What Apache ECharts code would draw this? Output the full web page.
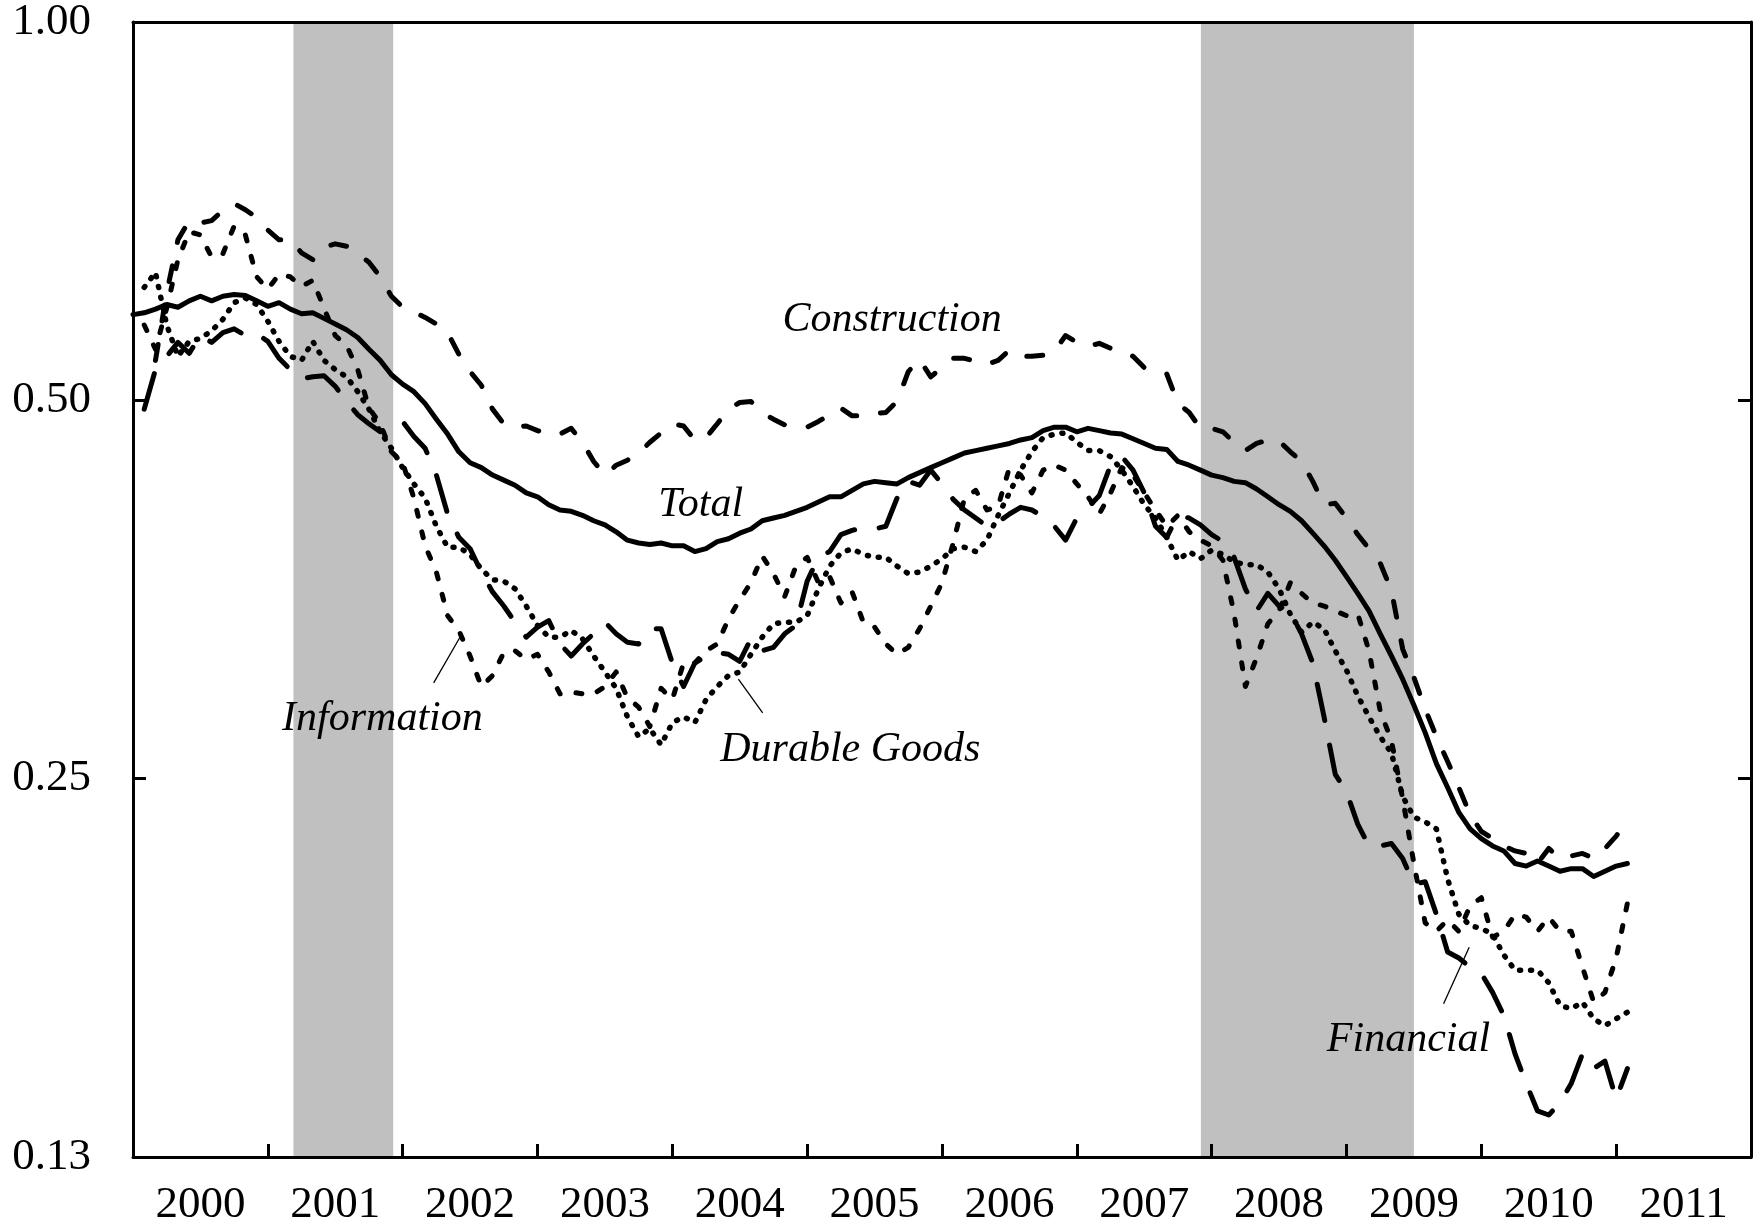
<!DOCTYPE html>
<html>
<head>
<meta charset="utf-8">
<script src="https://cdn.jsdelivr.net/npm/echarts@6/dist/echarts.min.js"></script>
<style>
  html, body { margin: 0; padding: 0; background: #fff; }
  #chart { width: 1758px; height: 1217px; }
</style>
</head>
<body>
<div id="chart"></div>
<script>
// year labels sit in the middle of each year band
var yearLabels = ['2000', '2001', '2002', '2003', '2004', '2005', '2006', '2007', '2008', '2009', '2010', '2011'];

// monthly series, first value = month index given by *Start (0 = Jan 2000)
var totalStart = 0;
var total = [
  0.585, 0.587, 0.591, 0.596, 0.593, 0.600, 0.605, 0.600, 0.605, 0.607, 0.606, 0.600,
  0.594, 0.598, 0.591, 0.586, 0.587, 0.581, 0.575, 0.569, 0.561, 0.549, 0.538, 0.524,
  0.515, 0.508, 0.497, 0.483, 0.470, 0.455, 0.446, 0.442, 0.436, 0.432, 0.428, 0.422,
  0.419, 0.413, 0.409, 0.408, 0.405, 0.401, 0.398, 0.393, 0.387, 0.385, 0.384, 0.385,
  0.383, 0.383, 0.379, 0.381, 0.386, 0.388, 0.392, 0.395, 0.401, 0.403, 0.405, 0.408,
  0.411, 0.415, 0.419, 0.419, 0.424, 0.429, 0.431, 0.430, 0.429, 0.434, 0.438, 0.442,
  0.446, 0.450, 0.454, 0.456, 0.458, 0.460, 0.462, 0.465, 0.467, 0.473, 0.476, 0.476,
  0.472, 0.475, 0.473, 0.471, 0.470, 0.466, 0.462, 0.458, 0.457, 0.447, 0.444, 0.440,
  0.436, 0.434, 0.431, 0.430, 0.425, 0.419, 0.413, 0.408, 0.401, 0.392, 0.383, 0.373,
  0.362, 0.351, 0.340, 0.326, 0.313, 0.300, 0.286, 0.272, 0.257, 0.246, 0.235, 0.228,
  0.224, 0.221, 0.219, 0.214, 0.213, 0.215, 0.213, 0.211, 0.212, 0.212, 0.209, 0.211,
  0.213, 0.214
];

var constructionStart = 2;
var construction = [
  0.538, 0.609, 0.671, 0.695, 0.692, 0.695, 0.708, 0.717, 0.709, 0.699,
  0.683, 0.671, 0.671, 0.655, 0.647, 0.662, 0.666, 0.663, 0.654, 0.644, 0.627, 0.605,
  0.593, 0.588, 0.582, 0.575, 0.566, 0.544, 0.527, 0.514, 0.492, 0.479, 0.476, 0.477,
  0.473, 0.470, 0.470, 0.475, 0.463, 0.447, 0.436, 0.444, 0.448, 0.454, 0.463, 0.471,
  0.479, 0.477, 0.465, 0.467, 0.479, 0.492, 0.498, 0.499, 0.489, 0.483, 0.478, 0.477,
  0.476, 0.481, 0.487, 0.493, 0.486, 0.486, 0.488, 0.489, 0.499, 0.527, 0.539, 0.522,
  0.531, 0.540, 0.540, 0.537, 0.534, 0.538, 0.548, 0.542, 0.542, 0.543, 0.547, 0.563,
  0.556, 0.552, 0.555, 0.550, 0.547, 0.542, 0.531, 0.528, 0.525, 0.497, 0.489, 0.475,
  0.475, 0.472, 0.463, 0.456, 0.462, 0.465, 0.464, 0.455, 0.447, 0.431, 0.413, 0.414,
  0.403, 0.391, 0.381, 0.371, 0.353, 0.317, 0.301, 0.284, 0.270, 0.258, 0.246, 0.234,
  0.227, 0.224, 0.221, 0.219, 0.218, 0.214, 0.220, 0.216, 0.217, 0.218, 0.216, 0.220,
  0.225, 0.232
];

var informationStart = 1;
var information = [
  0.574, 0.549, 0.592, 0.647, 0.681, 0.677, 0.650, 0.654, 0.688, 0.677, 0.627,
  0.613, 0.630, 0.627, 0.616, 0.623, 0.592, 0.563, 0.553, 0.529, 0.493, 0.479, 0.455,
  0.446, 0.418, 0.383, 0.365, 0.337, 0.328, 0.313, 0.296, 0.302, 0.315, 0.316, 0.311,
  0.314, 0.304, 0.292, 0.293, 0.292, 0.292, 0.296, 0.304, 0.290, 0.285, 0.275, 0.295,
  0.289, 0.309, 0.309, 0.316, 0.320, 0.335, 0.347, 0.358, 0.376, 0.364, 0.349, 0.369,
  0.375, 0.358, 0.362, 0.345, 0.352, 0.333, 0.330, 0.320, 0.314, 0.318, 0.329, 0.343,
  0.358, 0.385, 0.418, 0.424, 0.409, 0.412, 0.442, 0.436, 0.422, 0.440, 0.444, 0.440,
  0.429, 0.419, 0.406, 0.422, 0.442, 0.436, 0.422, 0.409, 0.397, 0.405, 0.393, 0.387,
  0.383, 0.373, 0.338, 0.296, 0.312, 0.332, 0.340, 0.358, 0.351, 0.345, 0.343, 0.340,
  0.337, 0.338, 0.316, 0.283, 0.268, 0.241, 0.214, 0.192, 0.189, 0.193, 0.189, 0.198,
  0.201, 0.187, 0.189, 0.195, 0.194, 0.189, 0.194, 0.189, 0.189, 0.177, 0.166, 0.169,
  0.180, 0.199
];

var durableStart = 1;
var durable = [
  0.615, 0.632, 0.574, 0.542, 0.557, 0.560, 0.568, 0.580, 0.598, 0.603, 0.596,
  0.578, 0.557, 0.542, 0.538, 0.557, 0.538, 0.529, 0.522, 0.508, 0.492, 0.472, 0.458,
  0.442, 0.429, 0.418, 0.397, 0.382, 0.382, 0.377, 0.367, 0.360, 0.359, 0.354, 0.343,
  0.331, 0.324, 0.324, 0.328, 0.323, 0.313, 0.304, 0.295, 0.280, 0.270, 0.274, 0.266,
  0.277, 0.280, 0.277, 0.289, 0.296, 0.302, 0.304, 0.314, 0.324, 0.332, 0.333, 0.333,
  0.337, 0.354, 0.369, 0.378, 0.381, 0.377, 0.375, 0.375, 0.369, 0.364, 0.365, 0.369,
  0.374, 0.381, 0.382, 0.379, 0.387, 0.405, 0.422, 0.440, 0.455, 0.467, 0.470, 0.471,
  0.463, 0.456, 0.456, 0.451, 0.440, 0.427, 0.413, 0.403, 0.389, 0.373, 0.379, 0.374,
  0.380, 0.377, 0.372, 0.370, 0.370, 0.365, 0.354, 0.338, 0.327, 0.333, 0.329, 0.316,
  0.305, 0.291, 0.280, 0.270, 0.262, 0.242, 0.233, 0.231, 0.228, 0.208, 0.195, 0.191,
  0.190, 0.188, 0.181, 0.176, 0.176, 0.176, 0.172, 0.165, 0.164, 0.166, 0.161, 0.159,
  0.161, 0.163
];

var financialStart = 1;
var financial = [
  0.492, 0.529, 0.542, 0.556, 0.545, 0.563, 0.556, 0.566, 0.570, 0.563, 0.565,
  0.557, 0.540, 0.529, 0.520, 0.522, 0.523, 0.513, 0.499, 0.487, 0.479, 0.472, 0.477,
  0.481, 0.468, 0.458, 0.436, 0.406, 0.389, 0.381, 0.365, 0.352, 0.343, 0.333, 0.324,
  0.330, 0.334, 0.320, 0.313, 0.320, 0.326, 0.333, 0.326, 0.321, 0.320, 0.329, 0.329,
  0.309, 0.296, 0.309, 0.313, 0.315, 0.314, 0.310, 0.323, 0.316, 0.318, 0.326, 0.331,
  0.359, 0.375, 0.379, 0.391, 0.394, 0.396, 0.395, 0.397, 0.418, 0.431, 0.428, 0.440,
  0.429, 0.417, 0.409, 0.403, 0.397, 0.400, 0.406, 0.411, 0.409, 0.404, 0.397, 0.387,
  0.403, 0.411, 0.420, 0.444, 0.451, 0.440, 0.422, 0.397, 0.389, 0.405, 0.403, 0.398,
  0.391, 0.386, 0.375, 0.354, 0.340, 0.351, 0.343, 0.339, 0.326, 0.309, 0.280, 0.252,
  0.244, 0.230, 0.221, 0.221, 0.222, 0.216, 0.206, 0.207, 0.195, 0.182, 0.180, 0.177,
  0.175, 0.169, 0.162, 0.151, 0.143, 0.136, 0.135, 0.138, 0.143, 0.151, 0.147, 0.149,
  0.139, 0.147
];

// recessions (fractional years)
var recessions = [[2001.19, 2001.93], [2007.92, 2009.50]];

// labels in data space [year, value]
var notes = [
  { text: 'Construction', at: [2005.63, 0.579] },
  { text: 'Total', at: [2004.21, 0.413] },
  { text: 'Information', at: [2001.85, 0.279] },
  { text: 'Durable Goods', at: [2005.32, 0.2636] },
  { text: 'Financial', at: [2009.46, 0.1550] }
];
var leaders = [
  [[2002.23, 0.298], [2002.44, 0.326]],
  [[2004.49, 0.300], [2004.67, 0.282]],
  [[2009.72, 0.1655], [2009.91, 0.1836]]
];

var FONT = '"Liberation Serif", "Times New Roman", serif';

function monthly(values, start) {
  return values.map(function (v, i) {
    return [2000 + (start + i) / 12, v];
  });
}

function lineSeries(name, values, start, style) {
  var ls = { color: '#000', width: 5, cap: 'round', join: 'round' };
  for (var k in style) ls[k] = style[k];
  return {
    name: name,
    type: 'line',
    xAxisIndex: 1,
    yAxisIndex: 0,
    data: monthly(values, start),
    showSymbol: false,
    symbol: 'none',
    lineStyle: ls,
    z: 3,
    silent: true
  };
}

var chartDom = document.getElementById('chart');
var chart = echarts.init(chartDom);

var axisLine = { show: true, onZero: false, lineStyle: { color: '#000', width: 3 } };

chart.setOption({
  animation: false,
  backgroundColor: '#fff',
  grid: { left: 133, right: 7, top: 22, bottom: 60, containLabel: false, outerBoundsMode: 'none' },
  xAxis: [
    {
      type: 'category',
      data: yearLabels,
      position: 'bottom',
      boundaryGap: true,
      z: 5,
      axisLine: axisLine,
      axisTick: { show: true, inside: true, length: 13, interval: 0, lineStyle: { color: '#000', width: 3 } },
      axisLabel: { interval: 0, color: '#000', fontFamily: FONT, fontSize: 45, margin: 26 },
      splitLine: { show: false }
    },
    {
      type: 'value',
      min: 2000,
      max: 2012,
      position: 'top',
      z: 5,
      axisLine: axisLine,
      axisTick: { show: false },
      axisLabel: { show: false },
      splitLine: { show: false }
    }
  ],
  yAxis: [
    {
      type: 'log',
      logBase: 2,
      min: 0.125,
      max: 1,
      splitNumber: 3,
      position: 'left',
      z: 5,
      axisLine: axisLine,
      axisTick: { show: true, inside: true, length: 13, lineStyle: { color: '#000', width: 3 } },
      axisLabel: {
        color: '#000', fontFamily: FONT, fontSize: 45, margin: 42,
        formatter: function (v) { return v.toFixed(2); }
      },
      splitLine: { show: false }
    },
    {
      type: 'log',
      logBase: 2,
      min: 0.125,
      max: 1,
      splitNumber: 3,
      position: 'right',
      z: 5,
      axisLine: axisLine,
      axisTick: { show: true, inside: true, length: 13, lineStyle: { color: '#000', width: 3 } },
      axisLabel: { show: false },
      splitLine: { show: false }
    }
  ],
  series: [
    {
      name: 'recession',
      type: 'line',
      xAxisIndex: 1,
      yAxisIndex: 0,
      data: monthly(total, totalStart),
      showSymbol: false,
      lineStyle: { opacity: 0 },
      z: 1,
      silent: true,
      markArea: {
        silent: true,
        itemStyle: { color: '#c0c0c0', opacity: 1 },
        data: recessions.map(function (r) { return [{ xAxis: r[0] }, { xAxis: r[1] }]; })
      }
    },
    lineSeries('Durable Goods', durable, durableStart, { type: [1, 10], width: 5.5 }),
    lineSeries('Information', information, informationStart, { type: [6, 16] }),
    lineSeries('Financial', financial, financialStart, { type: [37, 25] }),
    lineSeries('Construction', construction, constructionStart, { type: [16, 24] }),
    lineSeries('Total', total, totalStart, {})
  ]
});

// annotations placed through the chart's own scales
var graphics = [];
notes.forEach(function (n) {
  var p = chart.convertToPixel({ seriesIndex: 5 }, n.at);
  graphics.push({
    type: 'text', x: p[0], y: p[1], z: 10, silent: true,
    style: { text: n.text, fill: '#000', fontFamily: FONT, fontStyle: 'italic', fontSize: 42, align: 'center', verticalAlign: 'middle' }
  });
});
leaders.forEach(function (l) {
  var a = chart.convertToPixel({ seriesIndex: 5 }, l[0]);
  var b = chart.convertToPixel({ seriesIndex: 5 }, l[1]);
  graphics.push({
    type: 'line', z: 10, silent: true,
    shape: { x1: a[0], y1: a[1], x2: b[0], y2: b[1] },
    style: { stroke: '#000', lineWidth: 1.3 }
  });
});
chart.setOption({ graphic: graphics });
</script>
</body>
</html>
